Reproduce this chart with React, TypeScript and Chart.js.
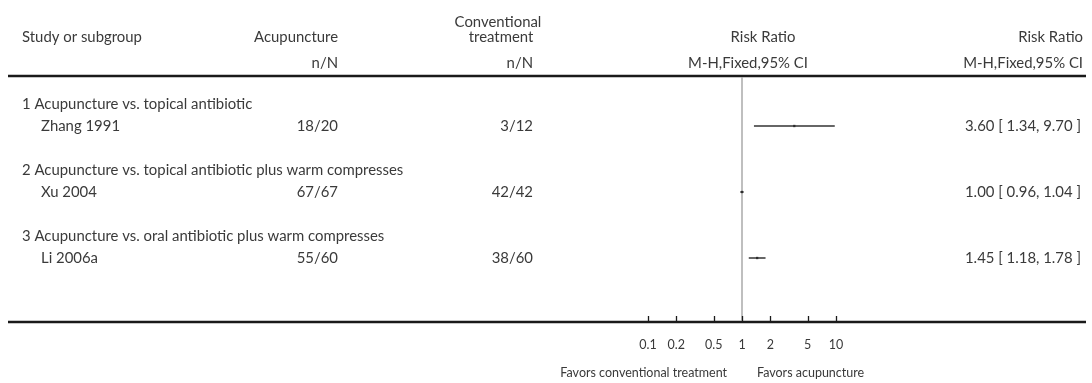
import React, { useEffect, useRef } from "react";
import { Chart, registerables } from "chart.js";

Chart.register(...registerables);

// ---------------- data ----------------
const subgroups = [
  "1 Acupuncture vs. topical antibiotic",
  "2 Acupuncture vs. topical antibiotic plus warm compresses",
  "3 Acupuncture vs. oral antibiotic plus warm compresses",
];
const studies = ["Zhang 1991", "Xu 2004", "Li 2006a"];
const acuEvents = [18, 67, 55];
const acuTotals = [20, 67, 60];
const convEvents = [3, 42, 38];
const convTotals = [12, 42, 60];
const riskRatios = [3.6, 1.0, 1.45];
const ciLower = [1.34, 0.96, 1.18];
const ciUpper = [9.7, 1.04, 1.78];
const headerRows = [1, 4, 7];
const studyRows = [2, 5, 8];
const axisTicks = [0.1, 0.2, 0.5, 1, 2, 5, 10];
const axisTickLabels = ["0.1", "0.2", "0.5", "1", "2", "5", "10"];
const favorsLeft = "Favors conventional treatment";
const favorsRight = "Favors acupuncture";

const FAMILY = "Lato, 'Open Sans', sans-serif";
const FONT = `14.9px ${FAMILY}`;
const FONT_SMALL = `12.5px ${FAMILY}`;
const TEXT = "#3a3a3a";
const TOP_LINE = 76;
const BOTTOM_LINE = 322;

const forestPlugin = {
  id: "forestTable",
  beforeDatasetsDraw(chart: any) {
    const { ctx } = chart;
    const x = chart.scales.x;
    const W = chart.width;
    const oneX = x.getPixelForValue(1);
    ctx.save();
    ctx.strokeStyle = "#1a1a1a";
    ctx.lineWidth = 2.5;
    ctx.beginPath();
    ctx.moveTo(8, TOP_LINE);
    ctx.lineTo(W - 6, TOP_LINE);
    ctx.moveTo(8, BOTTOM_LINE);
    ctx.lineTo(W - 6, BOTTOM_LINE);
    ctx.stroke();

    ctx.strokeStyle = "#aaaaaa";
    ctx.lineWidth = 1.5;
    ctx.beginPath();
    ctx.moveTo(oneX, TOP_LINE + 1);
    ctx.lineTo(oneX, BOTTOM_LINE - 1);
    ctx.stroke();

    ctx.strokeStyle = "#1a1a1a";
    ctx.lineWidth = 1.3;
    ctx.beginPath();
    axisTicks.forEach((t) => {
      const px = Math.round(x.getPixelForValue(t)) + 0.5;
      ctx.moveTo(px, BOTTOM_LINE - 6);
      ctx.lineTo(px, BOTTOM_LINE);
    });
    ctx.stroke();
    ctx.restore();
  },
  afterDraw(chart: any) {
    const { ctx } = chart;
    const x = chart.scales.x;
    const y = chart.scales.y;
    const oneX = x.getPixelForValue(1);

    ctx.save();
    ctx.font = FONT;
    ctx.fillStyle = TEXT;
    ctx.textBaseline = "middle";

    const txt = (s: string, px: number, py: number, align: CanvasTextAlign) => {
      ctx.textAlign = align;
      ctx.fillText(s, px, py);
    };

    // header
    txt("Study or subgroup", 22, 37, "left");
    txt("Acupuncture", 338, 37, "right");
    txt("n/N", 338, 63, "right");
    txt("Conventional", 498, 22, "center");
    txt("treatment", 501, 37, "center");
    txt("n/N", 533, 63, "right");
    txt("Risk Ratio", 763, 37, "center");
    txt("M-H,Fixed,95% CI", 748, 63, "center");
    txt("Risk Ratio", 1083, 37, "right");
    txt("M-H,Fixed,95% CI", 1083, 63, "right");

    // rows
    subgroups.forEach((s, i) => {
      txt(s, 22, y.getPixelForValue(headerRows[i]), "left");
    });
    studies.forEach((s, i) => {
      const py = y.getPixelForValue(studyRows[i]);
      txt(s, 41, py, "left");
      txt(`${acuEvents[i]}/${acuTotals[i]}`, 338, py, "right");
      txt(`${convEvents[i]}/${convTotals[i]}`, 533, py, "right");
      txt(
        `${riskRatios[i].toFixed(2)} [ ${ciLower[i].toFixed(2)}, ${ciUpper[i].toFixed(2)} ]`,
        1081,
        py,
        "right"
      );
    });

    // axis labels
    ctx.font = FONT_SMALL;
    axisTicks.forEach((t, i) => {
      txt(axisTickLabels[i], x.getPixelForValue(t), 345, "center");
    });
    txt(favorsLeft, oneX - 15, 373, "right");
    txt(favorsRight, oneX + 15, 373, "left");
    ctx.restore();
  },
};

export default function App() {
  const ref = useRef<HTMLCanvasElement | null>(null);
  useEffect(() => {
    if (!ref.current) return;
    const ciSets = studies.map((s, i) => ({
      type: "line" as const,
      label: s,
      data: [
        { x: ciLower[i], y: studyRows[i] },
        { x: ciUpper[i], y: studyRows[i] },
      ],
      borderColor: "#333333",
      borderWidth: 1.5,
      pointRadius: 0,
      showLine: true,
      fill: false,
    }));
    const chart = new Chart(ref.current, {
      type: "scatter",
      data: {
        datasets: [
          ...ciSets,
          {
            type: "scatter" as const,
            label: "Risk ratio",
            data: riskRatios.map((r, i) => ({ x: r, y: studyRows[i] })),
            pointStyle: "rect",
            pointRadius: 1.6,
            backgroundColor: "#1a1a1a",
            borderColor: "#1a1a1a",
            borderWidth: 0,
          },
        ] as any,
      },
      options: {
        animation: false,
        responsive: false,
        devicePixelRatio: 1,
        layout: { padding: { left: 554, right: 162, top: 82, bottom: 81 } },
        plugins: { legend: { display: false }, tooltip: { enabled: false } },
        scales: {
          x: { type: "logarithmic", min: 0.01, max: 100, display: false },
          y: { type: "linear", min: 0, max: 10, reverse: true, display: false },
        },
      },
      plugins: [forestPlugin],
    });
    return () => chart.destroy();
  }, []);
  return (
    <div style={{ position: "absolute", left: 0, top: 0, width: 1092, height: 383, background: "#fff" }}>
      <canvas ref={ref} width={1092} height={383} />
    </div>
  );
}
